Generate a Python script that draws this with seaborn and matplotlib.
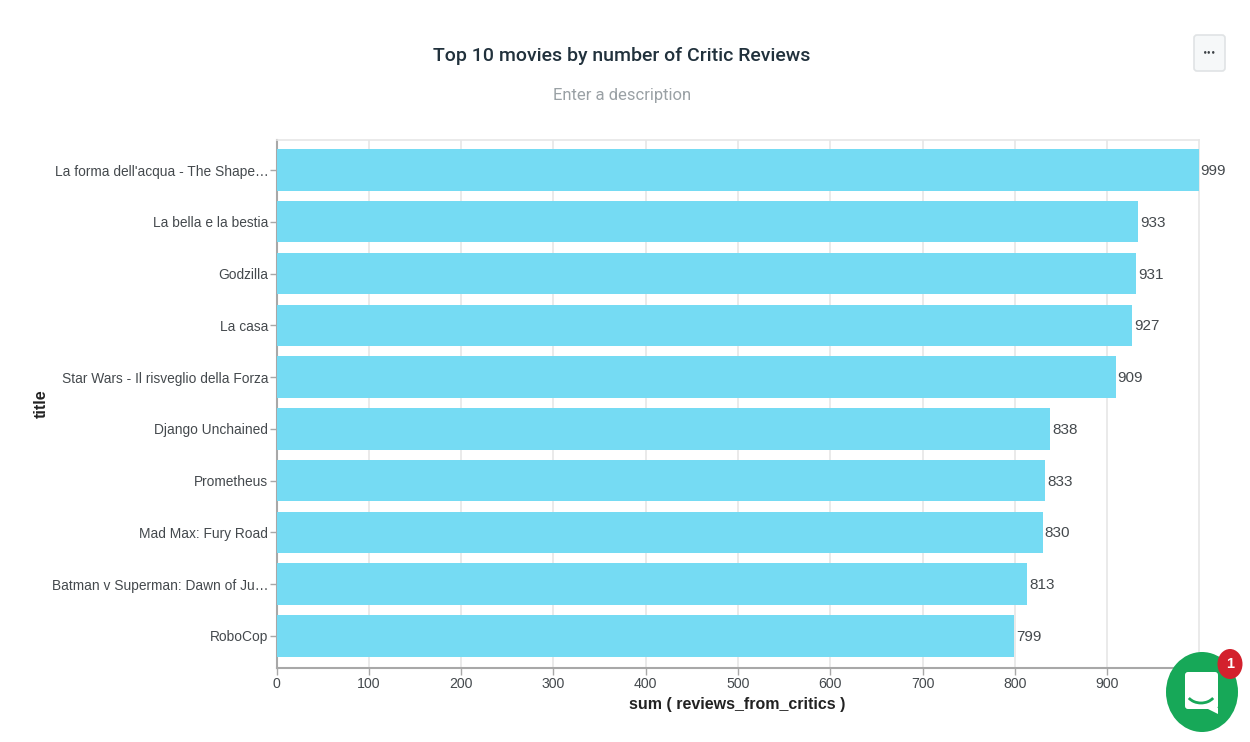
"""Top 10 movies by number of critic reviews, horizontal bars."""

import matplotlib.pyplot as plt
from matplotlib.patches import Ellipse, FancyBboxPatch, Polygon, Arc
import pandas as pd
import seaborn as sns

titles = [
    "La forma dell'acqua - The Shape…",
    "La bella e la bestia",
    "Godzilla",
    "La casa",
    "Star Wars - Il risveglio della Forza",
    "Django Unchained",
    "Prometheus",
    "Mad Max: Fury Road",
    "Batman v Superman: Dawn of Ju…",
    "RoboCop",
]
reviews = [999, 933, 931, 927, 909, 838, 833, 830, 813, 799]
x_ticks = [0, 100, 200, 300, 400, 500, 600, 700, 800, 900]

BAR_COLOR = "#75dbf3"
GRID_COLOR = "#e6e6e6"
AXIS_COLOR = "#a8a8a8"
TEXT_COLOR = "#44494d"
W, H = 1250, 742

sns.set_style("white")
plt.rcParams['font.family'] = ['Liberation Sans', 'DejaVu Sans']

df = pd.DataFrame({'title': titles, 'reviews': reviews})

fig = plt.figure(figsize=(W / 100, H / 100), dpi=100)
ax = fig.add_axes([276.6 / W, 1 - 668 / H, (1198.6 - 276.6) / W, (668 - 140) / H])

sns.barplot(data=df, x='reviews', y='title', color=BAR_COLOR, saturation=1,
            width=0.8, linewidth=0, ax=ax, zorder=3)

ax.set_xlim(0, 999)
ax.set_ylim(9.62, -0.58)
ax.set_xticks(x_ticks)
ax.grid(True, axis='x', color=GRID_COLOR, linewidth=1.2, zorder=0)
ax.tick_params(axis='x', length=5, width=1, color=AXIS_COLOR, labelsize=10.2,
               labelcolor=TEXT_COLOR, pad=1.5, bottom=True)
ax.tick_params(axis='y', length=5, width=1, color=AXIS_COLOR, labelsize=9.9,
               labelcolor=TEXT_COLOR, pad=1, left=True)

for side in ['top', 'right']:
    ax.spines[side].set_color(GRID_COLOR)
    ax.spines[side].set_linewidth(1.2)
for side in ['left', 'bottom']:
    ax.spines[side].set_color(AXIS_COLOR)
    ax.spines[side].set_linewidth(1.5)

ax.set_xlabel('sum ( reviews_from_critics )', fontsize=11.5, fontweight='bold',
              color='#222222', labelpad=4)
ax.set_ylabel('title', fontsize=11.5, fontweight='bold', color='#222222')
ax.yaxis.set_label_coords((49 - 277) / (1199 - 277), (668 - 404) / (668 - 140))

# value labels at the bar ends, nudged down a pixel
for lbl in ax.bar_label(ax.containers[0], padding=1.5, fontsize=11, color=TEXT_COLOR,
                        clip_on=False):
    lbl.xyann = (1.5, -0.8)

fig.text(622 / W, 1 - 56 / H, 'Top 10 movies by number of Critic Reviews',
         ha='center', va='center', fontsize=14, color='#21313c',
         family='Roboto', fontweight='medium')
fig.text(622 / W, 1 - 95.5 / H, 'Enter a description', ha='center', va='center',
         fontsize=12, color='#9aa1a5', family='Roboto')

# page furniture, drawn in pixel coordinates
overlay = fig.add_axes([0, 0, 1, 1], facecolor='none')
overlay.set_xlim(0, W)
overlay.set_ylim(H, 0)
overlay.axis('off')

overlay.add_patch(FancyBboxPatch((1194, 35), 31, 36, boxstyle='round,pad=0,rounding_size=3',
                                 fc='#f6f8f9', ec='#e0e3e5', lw=1.2))
overlay.text(1210, 52, '•••', ha='center', va='center', fontsize=5, color='#3d4246',
             family='DejaVu Sans', fontweight='bold')

overlay.add_patch(Ellipse((1202, 692), 72, 80, fc='#17a858', ec='none'))
overlay.add_patch(FancyBboxPatch((1185, 672), 33, 37, boxstyle='round,pad=0,rounding_size=3',
                                 fc='white', ec='none'))
overlay.add_patch(Polygon([(1206, 708), (1218, 708), (1218, 714)], fc='white', ec='none'))
overlay.add_patch(Arc((1201, 691), 30, 24, theta1=30, theta2=150, color='#17a858', lw=2))
overlay.add_patch(Ellipse((1230, 664), 25, 30, fc='#d3212d', ec='none'))
overlay.text(1230, 664, '1', ha='center', va='center', fontsize=10.5, color='white',
             fontweight='bold')

fig.savefig('out.png', dpi=100)
